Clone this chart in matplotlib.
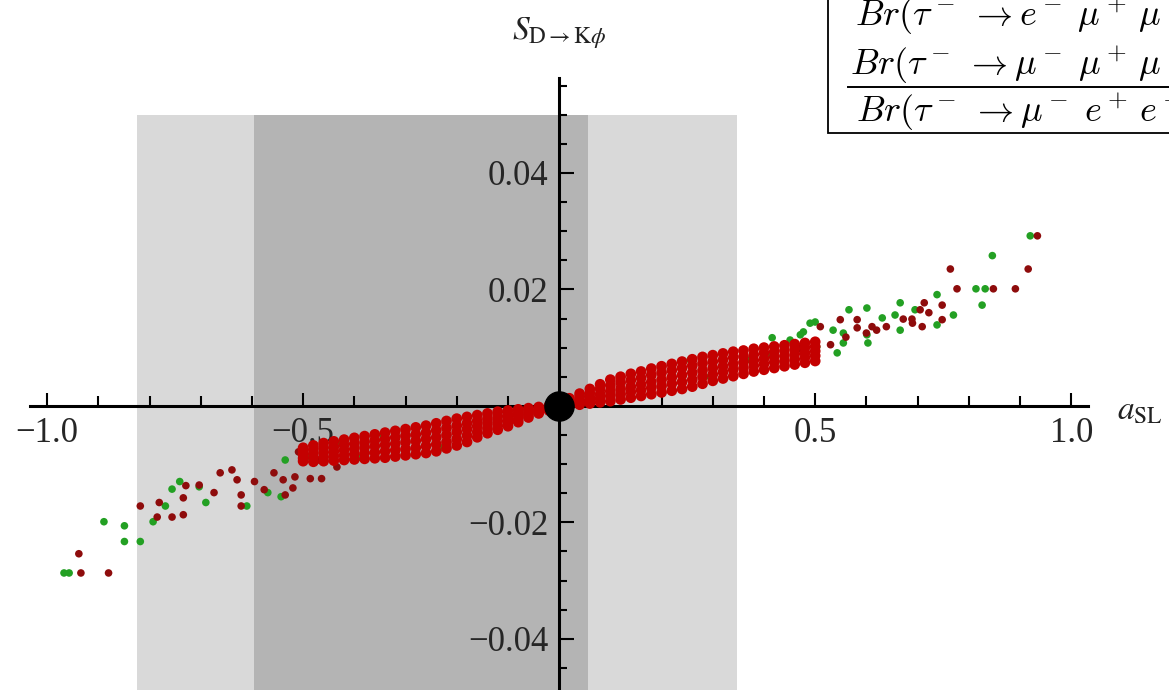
import matplotlib
matplotlib.use("Agg")
import matplotlib.pyplot as plt
from matplotlib.patches import Rectangle
from matplotlib.lines import Line2D

plt.rcParams["font.family"] = ["Liberation Serif", "DejaVu Serif"]
plt.rcParams["mathtext.fontset"] = "stix"

# shaded regions on a_SL
light_band = (-0.825, 0.347)
dark_band = (-0.596, 0.056)
band_top = 0.05

# dense red core of the scan, read row by row
core_x = [-0.50, -0.48, -0.46, -0.44, -0.42, -0.40, -0.38, -0.36, -0.34, -0.32,
          -0.30, -0.28, -0.26, -0.24, -0.22, -0.20, -0.18, -0.16, -0.14, -0.12,
          -0.10, -0.08, -0.06, -0.04, -0.02, 0.00, 0.02, 0.04, 0.06, 0.08,
          0.10, 0.12, 0.14, 0.16, 0.18, 0.20, 0.22, 0.24, 0.26, 0.28,
          0.30, 0.32, 0.34, 0.36, 0.38, 0.40, 0.42, 0.44, 0.46, 0.48, 0.50]
core_top = [-0.0072, -0.0068, -0.0064, -0.0061, -0.0058, -0.0055, -0.0052, -0.0049, -0.0046, -0.0043,
            -0.0040, -0.0037, -0.0034, -0.0030, -0.0026, -0.0022, -0.0019, -0.0016, -0.0013, -0.0010,
            -0.0008, -0.0006, -0.0004, -0.0002, 0.0000, 0.0004, 0.0013, 0.0021, 0.0029, 0.0037,
            0.0045, 0.0050, 0.0055, 0.0059, 0.0064, 0.0068, 0.0072, 0.0076, 0.0080, 0.0084,
            0.0087, 0.0090, 0.0093, 0.0095, 0.0098, 0.0100, 0.0102, 0.0104, 0.0106, 0.0108, 0.0110]
core_upper = [-0.0078, -0.0075, -0.0072, -0.0070, -0.0067, -0.0065, -0.0062, -0.0059, -0.0057, -0.0054,
              -0.0051, -0.0049, -0.0046, -0.0042, -0.0038, -0.0034, -0.0030, -0.0026, -0.0022, -0.0018,
              -0.0015, -0.0012, -0.0008, -0.0005, -0.0002, 0.0002, 0.0009, 0.0016, 0.0022, 0.0029,
              0.0035, 0.0040, 0.0044, 0.0048, 0.0053, 0.0057, 0.0061, 0.0065, 0.0069, 0.0073,
              0.0076, 0.0079, 0.0083, 0.0085, 0.0088, 0.0091, 0.0093, 0.0095, 0.0098, 0.0100, 0.0102]
core_mid = [-0.0084, -0.0082, -0.0080, -0.0078, -0.0076, -0.0074, -0.0071, -0.0069, -0.0067, -0.0065,
            -0.0062, -0.0060, -0.0057, -0.0054, -0.0050, -0.0045, -0.0040, -0.0035, -0.0030, -0.0026,
            -0.0021, -0.0017, -0.0012, -0.0008, -0.0004, 0.0000, 0.0005, 0.0010, 0.0015, 0.0020,
            0.0025, 0.0029, 0.0033, 0.0037, 0.0041, 0.0045, 0.0049, 0.0053, 0.0057, 0.0061,
            0.0065, 0.0068, 0.0072, 0.0075, 0.0078, 0.0081, 0.0084, 0.0086, 0.0089, 0.0091, 0.0094]
core_lower = [-0.0090, -0.0089, -0.0088, -0.0086, -0.0085, -0.0083, -0.0081, -0.0080, -0.0078, -0.0076,
              -0.0074, -0.0072, -0.0069, -0.0066, -0.0062, -0.0057, -0.0051, -0.0045, -0.0039, -0.0034,
              -0.0028, -0.0023, -0.0016, -0.0011, -0.0006, -0.0002, 0.0003, 0.0006, 0.0010, 0.0013,
              0.0017, 0.0020, 0.0024, 0.0027, 0.0031, 0.0034, 0.0038, 0.0041, 0.0045, 0.0050,
              0.0054, 0.0058, 0.0062, 0.0065, 0.0069, 0.0072, 0.0075, 0.0077, 0.0080, 0.0083, 0.0086]
core_bot = [-0.0095, -0.0096, -0.0095, -0.0094, -0.0093, -0.0092, -0.0091, -0.0090, -0.0089, -0.0087,
            -0.0085, -0.0083, -0.0081, -0.0078, -0.0073, -0.0068, -0.0062, -0.0054, -0.0047, -0.0041,
            -0.0035, -0.0028, -0.0020, -0.0013, -0.0008, -0.0004, 0.0000, 0.0002, 0.0004, 0.0006,
            0.0008, 0.0011, 0.0014, 0.0017, 0.0020, 0.0023, 0.0026, 0.0029, 0.0033, 0.0038,
            0.0043, 0.0047, 0.0051, 0.0055, 0.0059, 0.0062, 0.0065, 0.0068, 0.0071, 0.0074, 0.0077]

# scattered red points
red_x = [0.934, 0.764, 0.916, 0.777, 0.848, 0.891, 0.713, 0.705, 0.748, 0.748,
         0.672, 0.689, 0.709, 0.549, 0.582, 0.582, 0.611, 0.639, 0.510, 0.722,
         0.690, 0.530, 0.560, 0.470, 0.600, 0.620,
         -0.938, -0.934, -0.880, -0.818, -0.785, -0.781, -0.756, -0.734, -0.734, -0.729,
         -0.703, -0.674, -0.662, -0.639, -0.629, -0.621, -0.621, -0.595, -0.576, -0.557,
         -0.539, -0.535, -0.516, -0.520, -0.486, -0.464, -0.509, -0.471, -0.434]
red_y = [0.0292, 0.0235, 0.0235, 0.0201, 0.0201, 0.0201, 0.0177, 0.0165, 0.0173, 0.0148,
         0.0149, 0.0149, 0.0136, 0.0148, 0.0148, 0.0134, 0.0136, 0.0136, 0.0136, 0.0160,
         0.0142, 0.0105, 0.0118, 0.0098, 0.0125, 0.0130,
         -0.0254, -0.0287, -0.0287, -0.0172, -0.0191, -0.0166, -0.0191, -0.0187, -0.0158, -0.0137,
         -0.0136, -0.0149, -0.0115, -0.0110, -0.0127, -0.0153, -0.0172, -0.0130, -0.0144, -0.0115,
         -0.0127, -0.0153, -0.0122, -0.0141, -0.0125, -0.0125, -0.0079, -0.0093, -0.0105]

# scattered green points
green_x = [0.920, 0.846, 0.814, 0.832, 0.826, 0.738, 0.770, 0.666, 0.695, 0.656,
           0.631, 0.601, 0.566, 0.500, 0.535, 0.555, 0.601, 0.666, 0.738, 0.477,
           0.416, 0.451, 0.471, 0.543, 0.555, 0.438, 0.412, 0.373, 0.320, 0.256,
           0.295, 0.603, 0.490, 0.503,
           -0.957, -0.967, -0.889, -0.849, -0.849, -0.818, -0.793, -0.769, -0.756, -0.741,
           -0.703, -0.690, -0.610, -0.569, -0.543, -0.535, -0.494, -0.427, -0.344, -0.232,
           -0.393]
green_y = [0.0292, 0.0258, 0.0201, 0.0201, 0.0173, 0.0191, 0.0156, 0.0177, 0.0165, 0.0156,
           0.0151, 0.0168, 0.0165, 0.0144, 0.0130, 0.0125, 0.0122, 0.0130, 0.0139, 0.0127,
           0.0117, 0.0113, 0.0122, 0.0091, 0.0108, 0.0074, 0.0088, 0.0079, 0.0088, 0.0079,
           0.0050, 0.0108, 0.0142, 0.0101,
           -0.0287, -0.0287, -0.0199, -0.0206, -0.0233, -0.0233, -0.0199, -0.0172, -0.0143, -0.0130,
           -0.0139, -0.0166, -0.0172, -0.0149, -0.0156, -0.0093, -0.0088, -0.0064, -0.0050, -0.0072,
           -0.0089]

x_major = [-1.0, -0.5, 0.5, 1.0]
x_major_labels = ["\u22121.0", "\u22120.5", "0.5", "1.0"]
x_minor = [-0.9, -0.8, -0.7, -0.6, -0.4, -0.3, -0.2, -0.1, 0.1, 0.2, 0.3, 0.4, 0.6, 0.7, 0.8, 0.9]
y_major = [-0.04, -0.02, 0.02, 0.04]
y_major_labels = ["\u22120.04", "\u22120.02", "0.02", "0.04"]
y_minor = [-0.045, -0.035, -0.03, -0.025, -0.015, -0.01, -0.005, 0.005, 0.01, 0.015,
           0.025, 0.03, 0.035, 0.045, 0.05, 0.055]

fig = plt.figure(figsize=(11.69, 6.90), dpi=100)
ax = fig.add_axes([0, 0, 1, 1])
ax.set_xlim(-1.092, 1.191)
ax.set_ylim(-0.0488, 0.0697)

ax.add_patch(Rectangle((light_band[0], -0.1), light_band[1] - light_band[0], band_top + 0.1,
                       facecolor="#d9d9d9", edgecolor="none", zorder=0.5))
ax.add_patch(Rectangle((dark_band[0], -0.1), dark_band[1] - dark_band[0], band_top + 0.1,
                       facecolor="#b4b4b4", edgecolor="none", zorder=0.6))

ax.scatter(green_x, green_y, s=30, color="#23a023", edgecolors="none", zorder=3)
ax.scatter(red_x, red_y, s=30, color="#8e0c0c", edgecolors="none", zorder=3.1)
for row in (core_top, core_upper, core_mid, core_lower, core_bot):
    ax.scatter(core_x, row, s=60, color="#c40000", edgecolors="none", zorder=3.2)
ax.plot([0], [0], "o", color="black", ms=21, zorder=5)

# axes through the origin, Mathematica style
for side in ("top", "right"):
    ax.spines[side].set_visible(False)
ax.spines["left"].set_position(("data", 0))
ax.spines["bottom"].set_position(("data", 0))
ax.spines["left"].set_bounds(-0.06, 0.0563)
ax.spines["bottom"].set_bounds(-1.033, 1.033)
for side in ("left", "bottom"):
    ax.spines[side].set_linewidth(2.2)
    ax.spines[side].set_zorder(2.5)

ax.set_xticks(x_major, x_major_labels)
ax.set_yticks(y_major, y_major_labels)
ax.set_xticks(x_minor, minor=True)
ax.set_yticks(y_minor, minor=True)
ax.tick_params(axis="x", which="major", direction="in", length=9.5, width=1.5,
               pad=8, labelsize=25, labelcolor="#262626")
ax.tick_params(axis="x", which="minor", direction="in", length=7.5, width=1.5)
ax.tick_params(axis="y", which="major", direction="in", length=11, width=1.5,
               pad=8, labelsize=25, labelcolor="#262626")
ax.tick_params(axis="y", which="minor", direction="in", length=6, width=1.5)

fig.text(559 / 1169, 1 - 33 / 690, r"$S_{\mathrm{D\to K}\phi}$", fontsize=24,
         ha="center", va="center", color="#222222")
fig.text(1117 / 1169, 1 - 411 / 690, r"$a_{\mathrm{SL}}$", fontsize=24,
         ha="left", va="center", color="#222222")

# legend box in the upper right, clipped by the figure edge
fig.patches.append(Rectangle((828 / 1169, 1 - 133 / 690), 0.5, 0.5, transform=fig.transFigure,
                             facecolor="white", edgecolor="black", linewidth=1.3, zorder=6))
fig.text(855 / 1169, 1 - 26 / 690, r"$Br(\tau^-\;\to e^-\;\mu^+\,\mu^-)$", fontsize=26,
         math_fontfamily="cm", ha="left", va="baseline", zorder=7)
fig.text(850 / 1169, 1 - 75 / 690, r"$Br(\tau^-\;\to \mu^-\;\mu^+\,\mu^-)$", fontsize=26,
         math_fontfamily="cm", ha="left", va="baseline", zorder=7)
fig.lines.append(Line2D([848 / 1169, 1.2], [1 - 87 / 690, 1 - 87 / 690], transform=fig.transFigure,
                        color="black", linewidth=1.4, zorder=7))
fig.text(856 / 1169, 1 - 122 / 690, r"$Br(\tau^-\;\to \mu^-\;e^+\,e^-)$", fontsize=26,
         math_fontfamily="cm", ha="left", va="baseline", zorder=7)

fig.savefig("out.png", dpi=100)
